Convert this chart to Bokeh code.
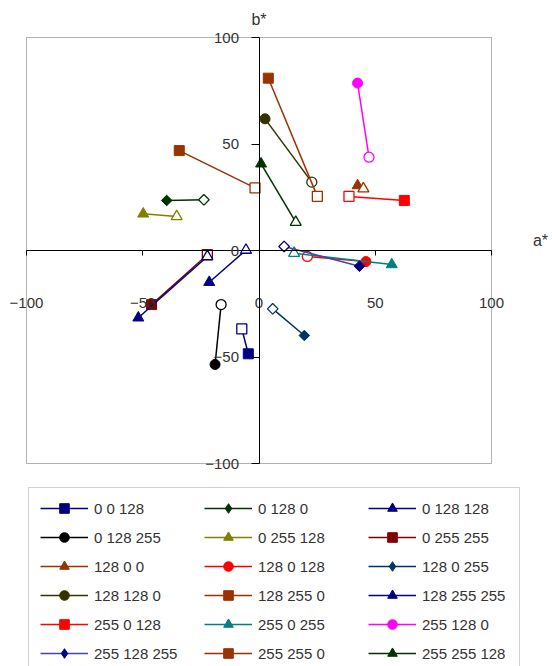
import numpy as np
from bokeh.plotting import figure
from bokeh.models import (Range1d, LinearAxis, FixedTicker, Legend, LegendItem,
                          Label, BoxAnnotation)
from bokeh.embed import file_html
from bokeh.resources import INLINE

names = ["0 0 128", "0 128 0", "0 128 128",
         "0 128 255", "0 255 128", "0 255 255",
         "128 0 0", "128 0 128", "128 0 255",
         "128 128 0", "128 255 0", "128 255 255",
         "255 0 128", "255 0 255", "255 128 0",
         "255 128 255", "255 255 0", "255 255 128"]
a_filled = [-4.6, -39.7, -21.4, -18.9, -49.8, -46.2, 42.4, 46.0, 19.5,
            2.6, 4.0, -51.9, 62.5, 57.1, 42.4, 43.2, -34.3, 0.9]
b_filled = [-48.5, 23.5, -14.9, -53.5, 17.2, -25.4, 30.5, -5.2, -39.9,
            61.8, 80.9, -31.6, 23.5, -6.6, 78.6, -7.4, 46.9, 40.7]
a_open = [-7.4, -23.7, -5.6, -16.3, -35.4, -22.2, 44.9, 20.8, 5.9,
          22.7, 25.1, -22.2, 38.7, 15.1, 47.3, 10.8, -1.7, 15.8]
b_open = [-36.8, 23.8, 0.2, -25.4, 16.0, -2.0, 29.0, -2.8, -27.4,
          32.1, 25.4, -2.8, 25.4, -1.3, 43.8, 1.9, 29.4, 13.3]
colors = ["#000080", "#003300", "#000080",
          "#000000", "#808000", "#800000",
          "#993300", "#FF0000", "#003366",
          "#333300", "#993300", "#000080",
          "#FF0000", "#008080", "#FF00FF",
          "#000080", "#993300", "#003300"]
line_colors = ["#000080", "#003300", "#000080",
               "#000000", "#808000", "#800000",
               "#993300", "#FF0000", "#003366",
               "#333300", "#993300", "#000080",
               "#FF0000", "#008080", "#FF00FF",
               "#4444AA", "#993300", "#003300"]
markers = ["square", "diamond", "triangle",
           "circle", "triangle", "square",
           "triangle", "circle", "diamond",
           "circle", "square", "triangle",
           "square", "triangle", "circle",
           "diamond", "square", "triangle"]
ticks = [-100, -50, 0, 50, 100]
a_lim = [-100, 100]
b_lim = [-100, 100]

# plot box: 465 x 426 px, placed at (26, 37) on a 552 x 666 canvas
W, H = 552, 666
BOX_L, BOX_T, BOX_W, BOX_H = 26, 37, 465, 426
sx = BOX_W / (a_lim[1] - a_lim[0])
sy = BOX_H / (b_lim[1] - b_lim[0])
x_range = Range1d(a_lim[0] - BOX_L / sx, a_lim[1] + (W - BOX_L - BOX_W) / sx)
y_range = Range1d(b_lim[0] - (H - BOX_T - BOX_H) / sy, b_lim[1] + BOX_T / sy)

def px_to_a(px):
    return a_lim[0] + (px - BOX_L) / sx

def px_to_b(py):
    return b_lim[1] - (py - BOX_T) / sy

p = figure(width=W, height=H, output_backend="svg", toolbar_location=None,
           x_range=x_range, y_range=y_range,
           x_axis_location=None, y_axis_location=None,
           min_border=0)
p.grid.grid_line_color = None
p.outline_line_color = None
p.background_fill_color = "white"
p.border_fill_color = "white"

p.add_layout(BoxAnnotation(left=a_lim[0], right=a_lim[1], bottom=b_lim[0], top=b_lim[1],
                           fill_alpha=0, line_color="black", line_width=1, level="underlay"))

font = "Liberation Sans"
FS = "15px"
xaxis = LinearAxis(fixed_location=0, ticker=FixedTicker(ticks=ticks), bounds=tuple(a_lim))
xaxis.major_tick_out = 5
xaxis.major_tick_in = 0
xaxis.minor_tick_out = 0
xaxis.minor_tick_in = 0
xaxis.major_label_standoff = 42
p.add_layout(xaxis, "below")
yaxis = LinearAxis(fixed_location=0, ticker=FixedTicker(ticks=ticks), bounds=tuple(b_lim))
yaxis.major_tick_out = 8
yaxis.major_tick_in = 0
yaxis.minor_tick_out = 0
yaxis.minor_tick_in = 0
yaxis.major_label_standoff = 12
p.add_layout(yaxis, "left")
for ax in (xaxis, yaxis):
    ax.axis_line_color = "black"
    ax.major_tick_line_color = "black"
    ax.major_label_text_font = font
    ax.major_label_text_font_size = FS
    ax.major_label_text_color = "#333333"

def draw_marker(x, y, m, fill, line, lw):
    if m == "diamond":
        return p.scatter(x=[x], y=[y], marker="square", angle=np.pi / 4, size=7.5,
                         fill_color=fill, line_color=line, line_width=lw)
    size = {"square": 10, "circle": 10, "triangle": 11}[m]
    return p.scatter(x=[x], y=[y], marker=m, size=size,
                     fill_color=fill, line_color=line, line_width=lw)

items = []
for i, nm in enumerate(names):
    ln = p.line(x=[a_filled[i], a_open[i]], y=[b_filled[i], b_open[i]],
                line_color=line_colors[i], line_width=1.5)
    if markers[i] == "diamond":
        # true diamond shape (hidden below the rotated square) used for the legend key
        fr = p.scatter(x=[a_filled[i]], y=[b_filled[i]], marker="diamond", size=9,
                       fill_color=colors[i], line_color=colors[i])
        draw_marker(a_filled[i], b_filled[i], markers[i], colors[i], colors[i], 1)
    else:
        fr = draw_marker(a_filled[i], b_filled[i], markers[i], colors[i], colors[i], 1)
    draw_marker(a_open[i], b_open[i], markers[i], "white", colors[i], 1.3)
    items.append(LegendItem(label=nm, renderers=[ln, fr]))

legend = Legend(items=items, location=(40, 1), orientation="horizontal", ncols=3)
legend.border_line_color = None
legend.background_fill_alpha = 0
legend.label_text_font = font
legend.label_text_font_size = FS
legend.label_text_color = "#333333"
legend.glyph_width = 48
legend.glyph_height = 24
legend.label_height = 24
legend.label_width = 105
legend.spacing = 5
legend.padding = 10
legend.label_standoff = 6
legend.margin = 0
p.add_layout(legend, "center")

# legend frame (border line around the key block)
p.add_layout(BoxAnnotation(left=px_to_a(28), right=px_to_a(519),
                           top=px_to_b(487), bottom=px_to_b(680),
                           fill_alpha=0, line_color="#666666", line_width=1))

p.add_layout(Label(x=0, y=b_lim[1] + 8.5, text="b*", text_align="center",
                   text_baseline="middle", text_font=font, text_font_size="16px",
                   text_color="#333333"))
p.add_layout(Label(x=a_lim[1] + 17.8, y=4.7, text="a*", text_align="left",
                   text_baseline="middle", text_font=font, text_font_size="16px",
                   text_color="#333333"))

open("out.html", "w").write(file_html(p, INLINE))
